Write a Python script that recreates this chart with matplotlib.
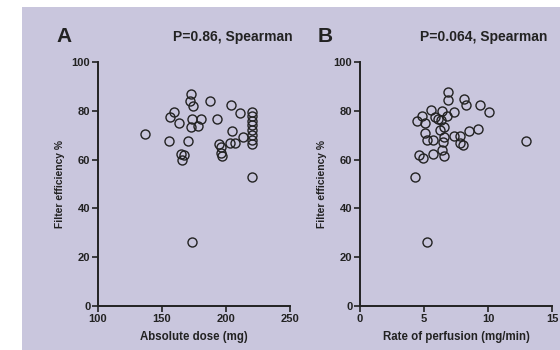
import matplotlib
matplotlib.use("Agg")
import matplotlib.pyplot as plt
from matplotlib.patches import Rectangle

plt.rcParams['font.family'] = ['Liberation Sans', 'DejaVu Sans']
plt.rcParams['font.weight'] = 'bold'

# panel A: absolute dose (mg) vs filter efficiency (%)
dose = [136.8, 155.1, 156.1, 159.3, 163.4, 165.0, 167.1, 166.0, 170.2, 172.3,
        171.8, 174.4, 173.1, 172.6, 178.1, 180.7, 187.5, 192.7, 194.3, 195.8,
        196.3, 196.9, 204.2, 204.7, 203.1, 207.3, 211.0, 213.1,
        220, 220, 220, 220, 220, 220, 220, 220, 220, 173.1]
eff_a = [70.3, 67.8, 77.5, 79.7, 75.0, 62.1, 61.7, 60.0, 67.8, 86.9,
         84.2, 82.1, 76.7, 73.4, 73.9, 76.7, 84.2, 76.7, 66.4, 65.1,
         62.8, 61.4, 82.3, 71.9, 66.8, 66.8, 79.0, 69.3,
         79.7, 77.8, 75.9, 74.0, 72.1, 70.1, 68.2, 66.3, 52.7, 26.4]

# panel B: rate of perfusion (mg/min) vs filter efficiency (%)
rate = [4.42, 4.83, 5.09, 5.51, 5.04, 5.20, 5.67, 5.87, 6.08, 6.39,
        6.29, 6.81, 6.24, 6.60, 6.55, 6.45, 6.39, 6.60, 5.67, 4.58,
        4.89, 6.91, 6.91, 7.38, 7.33, 7.85, 7.80, 8.01, 8.11, 8.32,
        8.53, 9.20, 9.36, 10.09, 13.0, 4.29, 5.22]
eff_b = [75.7, 77.8, 75.0, 80.2, 70.7, 68.2, 68.2, 77.5, 76.7, 79.9,
         76.4, 77.8, 72.3, 73.3, 69.3, 67.1, 63.8, 61.4, 62.2, 61.9,
         60.6, 87.7, 84.3, 79.5, 69.6, 69.6, 66.6, 66.0, 85.0, 82.3,
         71.9, 72.7, 82.5, 79.4, 67.7, 52.9, 26.4]

bg = '#c9c6dd'
ink = '#222222'

fig = plt.figure(figsize=(5.6, 3.5), dpi=100)
fig.patch.set_facecolor('white')
fig.patches.append(Rectangle((22 / 560, 0), 1, 1 - 7 / 350, transform=fig.transFigure,
                             facecolor=bg, edgecolor='none', zorder=-10))

panels = [
    (98, dose, eff_a, (100, 250), [100, 150, 200, 250], 'Absolute dose (mg)',
     'A', 'P=0.86, Spearman', 233),
    (360, rate, eff_b, (0, 15), [0, 5, 10, 15], 'Rate of perfusion (mg/min)',
     'B', 'P=0.064, Spearman', 484),
]

for left, x, y, xlim, xticks, xlabel, letter, title, tx in panels:
    ax = fig.add_axes([left / 560, 1 - 306 / 350, 192 / 560, 244 / 350])
    ax.set_facecolor('none')
    ax.plot(x, y, 'o', ms=6.5, mfc='none', mec=ink, mew=1.0, clip_on=False)
    ax.set_xlim(*xlim)
    ax.set_ylim(0, 100)
    ax.set_xticks(xticks)
    ax.set_yticks([0, 20, 40, 60, 80, 100])
    for s in ['top', 'right']:
        ax.spines[s].set_visible(False)
    for s in ['left', 'bottom']:
        ax.spines[s].set_linewidth(1.4)
        ax.spines[s].set_color(ink)
    ax.tick_params(direction='out', length=4, width=1.2, color=ink,
                   labelsize=8, labelcolor=ink, pad=1.5)
    ax.set_xlabel(xlabel, fontsize=8.3, fontweight='bold', color=ink, labelpad=5)
    ax.set_ylabel('Filter efficiency %', fontsize=7.4, fontweight='bold', color=ink,
                  labelpad=5)
    fig.text((left - 42) / 560, 1 - 36 / 350, letter, fontsize=15, fontweight='bold',
             color=ink, va='center', ha='left')
    fig.text(tx / 560, 1 - 37 / 350, title, fontsize=10, fontweight='bold',
             color=ink, va='center', ha='center')

fig.savefig('out.png', dpi=100)
